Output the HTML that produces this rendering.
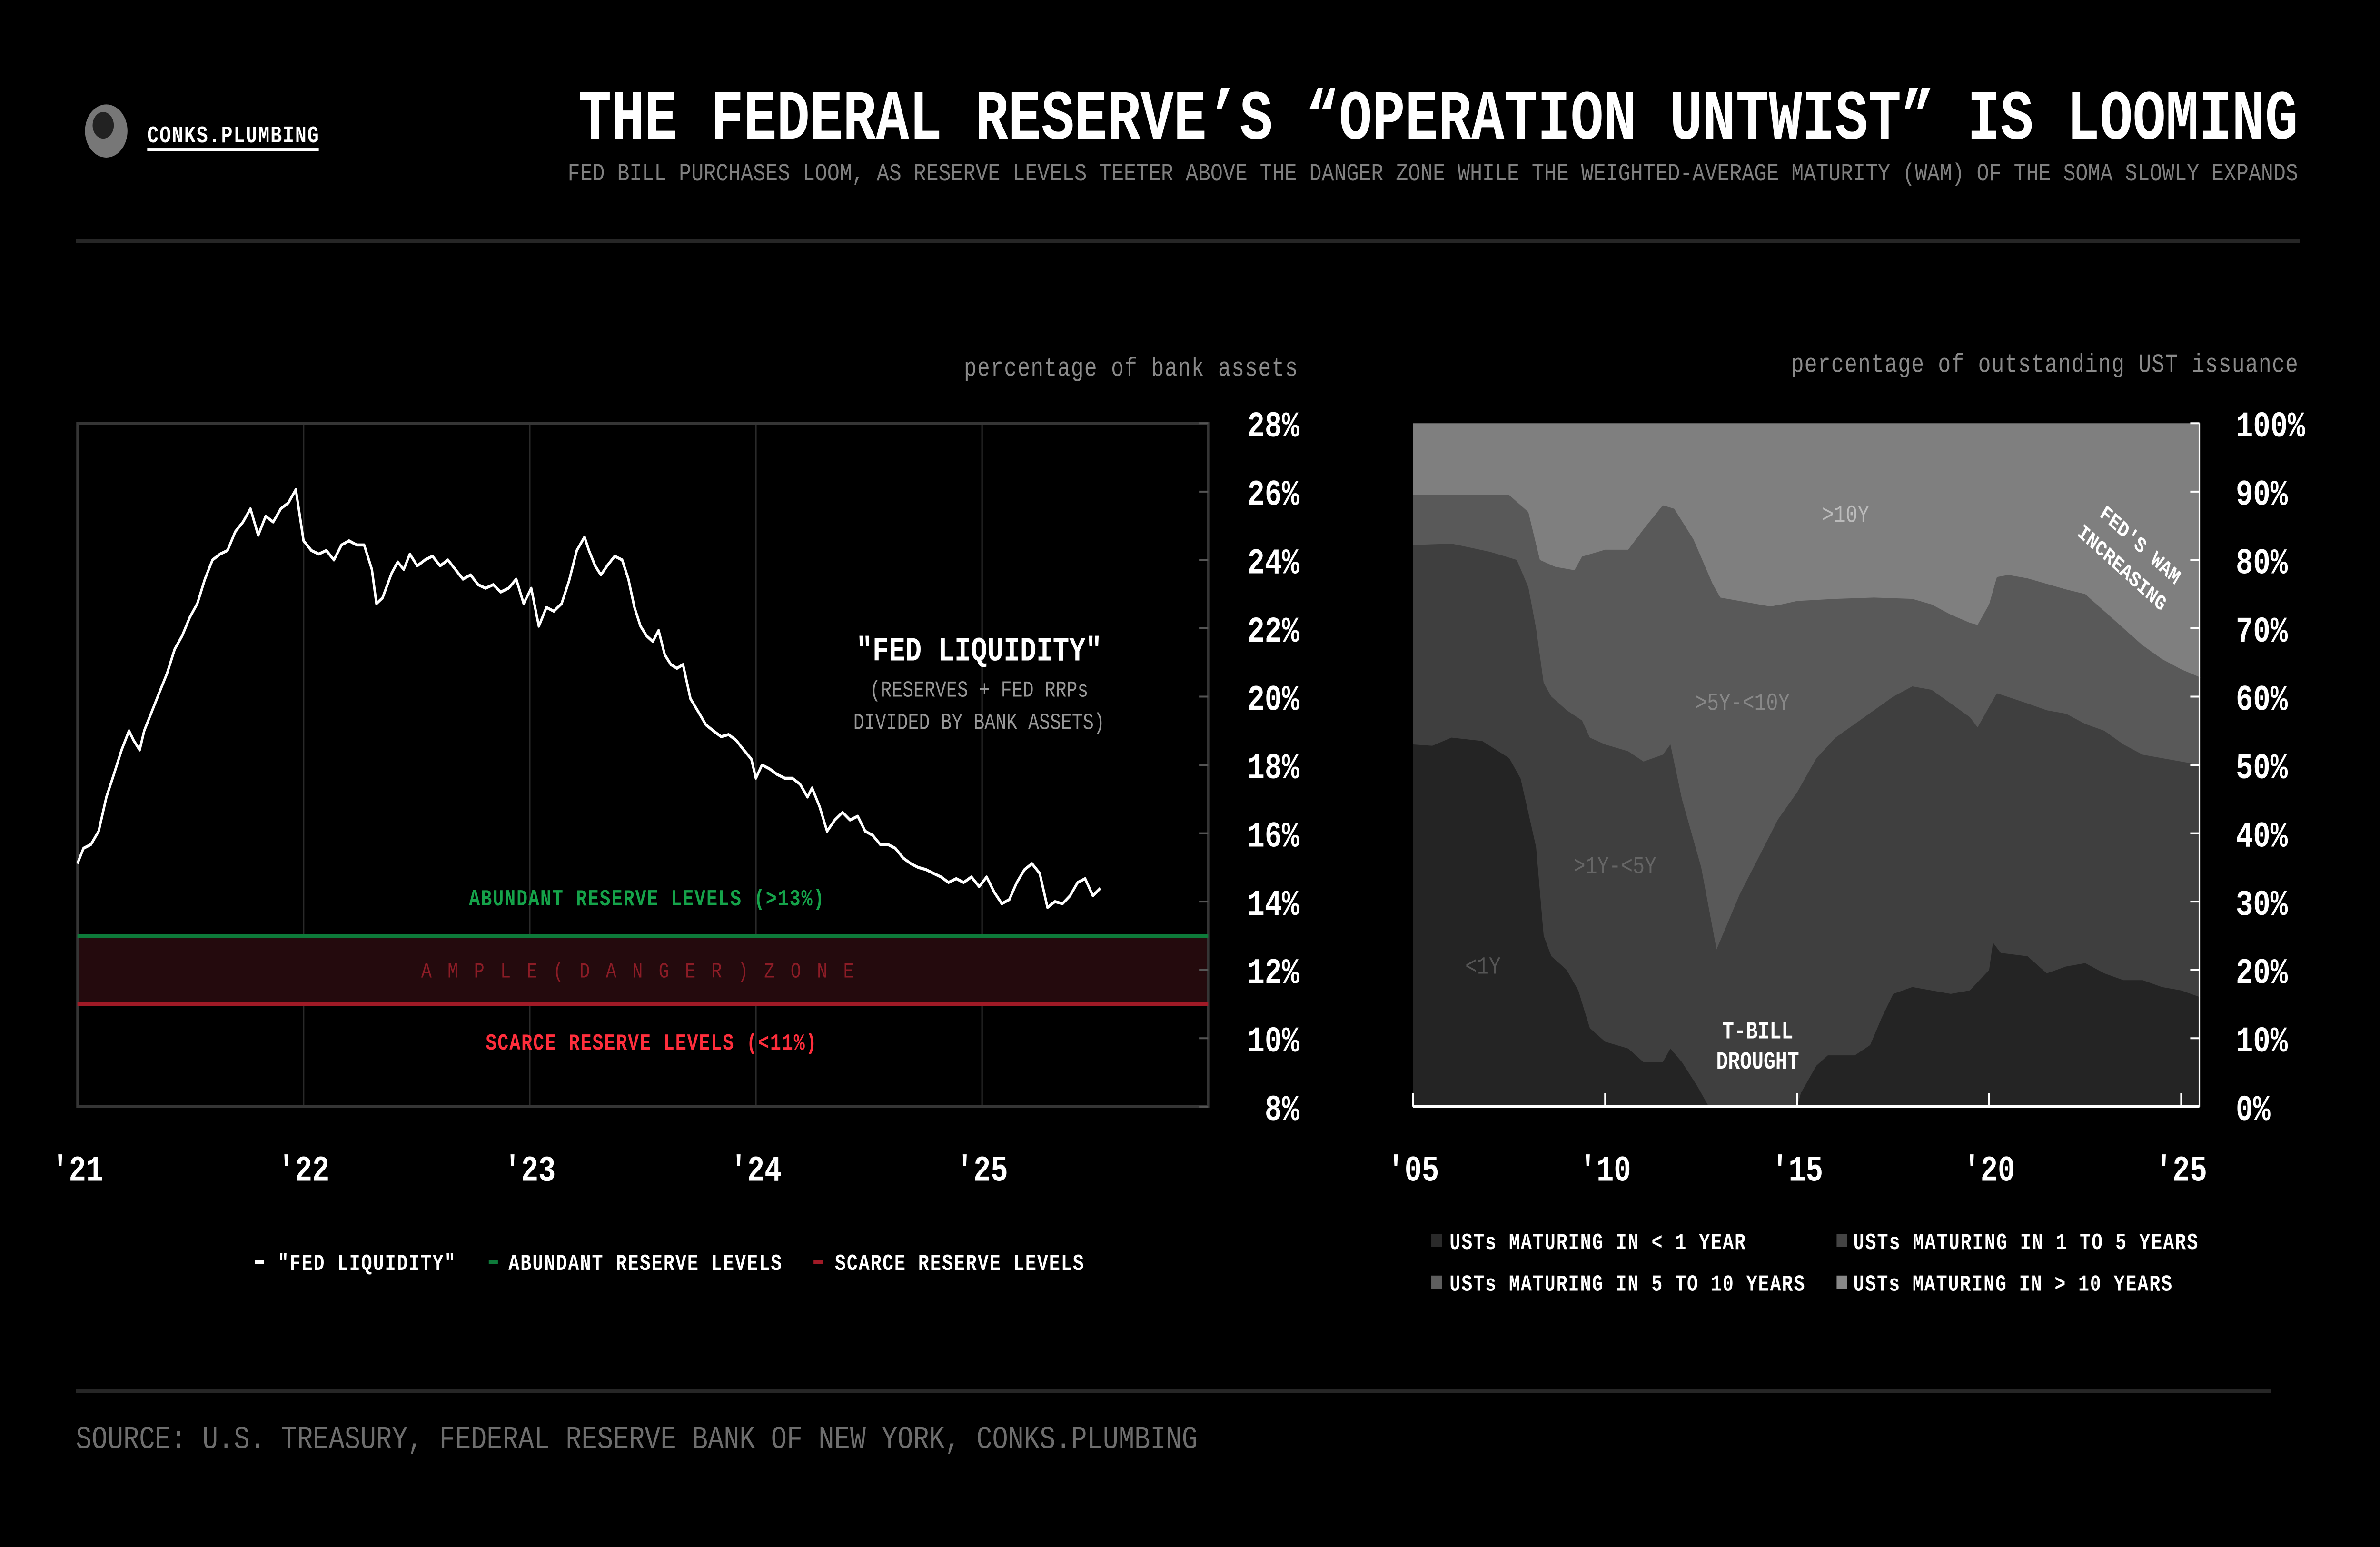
<!DOCTYPE html>
<html><head><meta charset="utf-8">
<style>
html,body{margin:0;padding:0;background:#000;overflow:hidden;width:100vw;height:100vh}
svg{display:block;width:100vw;height:100vh}
text{font-family:"Liberation Mono",monospace}
</style></head>
<body>
<svg id="svg" viewBox="0 0 1568 815" preserveAspectRatio="none" xmlns="http://www.w3.org/2000/svg">
<rect width="1568" height="815" fill="#000"/>
<g>
<circle cx="70" cy="69" r="14" fill="#777"/>
<circle cx="68" cy="66" r="7" fill="#222"/>
<text x="97" y="75" font-size="12.5" font-weight="bold" fill="#fff" textLength="113">CONKS.PLUMBING</text>
<rect x="97" y="78" width="113" height="1.5" fill="#fff"/>
</g>
<text x="1514" y="73" text-anchor="end" font-size="37" font-weight="bold" fill="#fff" textLength="1133" lengthAdjust="spacingAndGlyphs">THE FEDERAL RESERVE’S “OPERATION UNTWIST” IS LOOMING</text>
<text x="1514" y="95" text-anchor="end" font-size="13" fill="#808080" textLength="1140" lengthAdjust="spacingAndGlyphs">FED BILL PURCHASES LOOM, AS RESERVE LEVELS TEETER ABOVE THE DANGER ZONE WHILE THE WEIGHTED-AVERAGE MATURITY (WAM) OF THE SOMA SLOWLY EXPANDS</text>
<rect x="50" y="126" width="1465" height="2" fill="#262626"/>

<text x="855" y="198" text-anchor="end" font-size="14" fill="#8a8a8a" textLength="220">percentage of bank assets</text>
<text x="1514" y="196" text-anchor="end" font-size="14" fill="#8a8a8a" textLength="334">percentage of outstanding UST issuance</text>

<g id="left"></g>
<g id="right"></g>

<g>
<rect x="168" y="664" width="6" height="2" fill="#fff"/>
<text x="183" y="669" font-size="12" font-weight="bold" fill="#fff" textLength="117">"FED LIQUIDITY"</text>
<rect x="322" y="664" width="6" height="2" fill="#0e7a3a"/>
<text x="335" y="669" font-size="12" font-weight="bold" fill="#fff" textLength="180">ABUNDANT RESERVE LEVELS</text>
<rect x="536" y="664" width="6" height="2" fill="#a01a26"/>
<text x="550" y="669" font-size="12" font-weight="bold" fill="#fff" textLength="164">SCARCE RESERVE LEVELS</text>
</g>
<g>
<rect x="943" y="650" width="7" height="7" fill="#2a2a2a"/>
<text x="955" y="658" font-size="12" font-weight="bold" fill="#fff" textLength="195">USTs MATURING IN &lt; 1 YEAR</text>
<rect x="1210" y="650" width="7" height="7" fill="#444"/>
<text x="1221" y="658" font-size="12" font-weight="bold" fill="#fff" textLength="227">USTs MATURING IN 1 TO 5 YEARS</text>
<rect x="943" y="672" width="7" height="7" fill="#5e5e5e"/>
<text x="955" y="680" font-size="12" font-weight="bold" fill="#fff" textLength="234">USTs MATURING IN 5 TO 10 YEARS</text>
<rect x="1210" y="672" width="7" height="7" fill="#888"/>
<text x="1221" y="680" font-size="12" font-weight="bold" fill="#fff" textLength="210">USTs MATURING IN &gt; 10 YEARS</text>
</g>
<rect x="50" y="732" width="1446" height="2" fill="#262626"/>
<text x="50" y="763" font-size="17" fill="#6e6e6e" textLength="739" lengthAdjust="spacingAndGlyphs">SOURCE: U.S. TREASURY, FEDERAL RESERVE BANK OF NEW YORK, CONKS.PLUMBING</text>
</svg>
<script>
// ---------- LEFT CHART DATA ----------
const liqYearOffsets = [0,.027,.06,.094,.128,.161,.195,.228,.248,.275,.295,.329,.362,.396,.43,.463,.497,.53,.564,.597,.631,.664,.698,.732,.765,.799,.832,.866,.899,.933,.966,1.0,1.034,1.067,1.101,1.134,1.168,1.201,1.235,1.268,1.302,1.322,1.349,1.389,1.416,1.443,1.47,1.503,1.537,1.57,1.604,1.638,1.671,1.705,1.738,1.772,1.805,1.839,1.872,1.906,1.94,1.973,2.007,2.04,2.074,2.107,2.141,2.174,2.208,2.242,2.262,2.289,2.315,2.342,2.376,2.409,2.436,2.463,2.49,2.517,2.544,2.57,2.597,2.624,2.651,2.678,2.711,2.745,2.779,2.812,2.846,2.879,2.913,2.946,2.98,3.0,3.027,3.06,3.094,3.128,3.161,3.195,3.228,3.248,3.282,3.315,3.349,3.383,3.416,3.45,3.483,3.517,3.55,3.584,3.617,3.651,3.685,3.718,3.752,3.785,3.819,3.852,3.886,3.919,3.953,3.987,4.02,4.054,4.087,4.121,4.154,4.188,4.221,4.255,4.289,4.322,4.356,4.389,4.423,4.456,4.49,4.523];
const liqValues = [15.11,15.56,15.67,16.06,17.06,17.72,18.44,19.0,18.72,18.44,19.0,19.56,20.11,20.67,21.39,21.78,22.33,22.72,23.44,24.0,24.17,24.28,24.83,25.11,25.5,24.72,25.28,25.11,25.5,25.67,26.06,24.56,24.28,24.17,24.28,24.0,24.44,24.56,24.44,24.44,23.72,22.72,22.89,23.61,23.94,23.72,24.17,23.83,24.0,24.11,23.83,24.0,23.72,23.44,23.56,23.28,23.17,23.28,23.06,23.17,23.44,22.72,23.17,22.06,22.61,22.5,22.72,23.39,24.28,24.67,24.28,23.83,23.56,23.83,24.11,24.0,23.44,22.61,22.06,21.78,21.61,21.94,21.22,20.94,20.83,20.94,19.94,19.56,19.17,19.0,18.83,18.89,18.72,18.44,18.17,17.61,18.0,17.89,17.72,17.61,17.61,17.44,17.06,17.33,16.78,16.06,16.39,16.61,16.39,16.5,16.06,15.94,15.67,15.67,15.56,15.28,15.11,15.0,14.94,14.83,14.72,14.56,14.67,14.56,14.72,14.44,14.72,14.28,13.94,14.06,14.56,14.94,15.11,14.83,13.83,14.0,13.94,14.17,14.56,14.67,14.17,14.39];
const leftYTicks = [8,10,12,14,16,18,20,22,24,26,28];
const leftXTicks = [2021,2022,2023,2024,2025];
const leftXLabels = ["'21","'22","'23","'24","'25"];
const abundantLevel = 13;
const scarceLevel = 11;

// ---------- RIGHT CHART DATA ----------
const under1Years = [2005,2005.5,2006,2006.8,2007.5,2007.8,2008,2008.2,2008.4,2008.6,2009,2009.3,2009.6,2010,2010.6,2011,2011.5,2011.7,2012,2012.4,2012.7,2015,2015.1,2015.5,2015.8,2016,2016.5,2016.9,2017.2,2017.5,2018,2018.5,2019,2019.5,2020,2020.1,2020.3,2021,2021.5,2022,2022.5,2023,2023.5,2024,2024.5,2025,2025.5];
const under1Share = [53,52.8,54,53.5,51,48,43,38,25,22,20,17,11.5,9.5,8.5,6.5,6.5,8.5,6.5,3,0,0,2,6,7.5,7.5,7.5,9,13,16.5,17.5,17,16.5,17,20,24,22.5,22,19.5,20.5,21,19.5,18.5,18.5,17.5,17,16];
const under5Years = [2005,2006,2007,2007.7,2008,2008.2,2008.4,2008.6,2009,2009.4,2009.6,2010,2010.6,2011,2011.5,2011.7,2012,2012.5,2012.9,2013.2,2013.5,2014,2014.5,2015,2015.5,2016,2016.5,2017,2017.5,2018,2018.5,2019,2019.5,2019.7,2020,2020.2,2021,2021.5,2022,2022.5,2023,2023.5,2024,2025,2025.5];
const under5CumShare = [82.2,82.4,81.2,80,76,70,62,60,58,56.5,54,53,52,50.5,51.5,53,45,35,23,27,31,36.5,42,46,51,54,56,58,60,61.5,61,59,57,55.5,58.5,60.5,59,58,57.5,56,55,53,51.5,50.5,50];
const under10Years = [2005,2007.5,2008,2008.3,2008.7,2009.2,2009.4,2010,2010.6,2011,2011.5,2011.8,2012.3,2012.8,2013,2013.5,2014,2014.3,2014.6,2015,2016,2017,2018,2018.5,2019,2019.5,2019.7,2020,2020.2,2020.5,2021,2022,2022.5,2023,2023.5,2024,2024.5,2025,2025.5];
const under10CumShare = [89.5,89.5,87,80,79,78.5,80.5,81.5,81.5,84.5,88,87.5,83,76.5,74.5,74,73.5,73.2,73.5,74,74.3,74.5,74.3,73.5,72,70.8,70.5,73.5,77.5,77.8,77.3,75.7,75,72.5,70,67.5,65.5,64,62.8];
const rightYTicks = [0,10,20,30,40,50,60,70,80,90,100];
const rightXTicks = [2005,2010,2015,2020,2025];
const rightXLabels = ["'05","'10","'15","'20","'25"];

const NS = "http://www.w3.org/2000/svg";
function mk(tag, attrs, parent, txt){const e=document.createElementNS(NS,tag);for(const k in attrs)e.setAttribute(k,attrs[k]);if(txt!==undefined)e.textContent=txt;parent.appendChild(e);return e;}

// ---- left ----
const L = {x0:51,x1:796,y0:223,y1:583};
const lx = t => L.x0 + (t-2021)*149;
const ly = v => L.y1 - (v-8)/20*(L.y1-L.y0);
const left = document.getElementById('left');
leftXTicks.forEach((t,i)=>{
  if(i>0){const g=mk('line',{x1:lx(t),x2:lx(t),y1:L.y0,y2:L.y1,stroke:'#2a2a2a','stroke-width':1},left);
  
  }
  const tx=mk('text',{x:lx(t),y:622,'text-anchor':'middle','font-size':19,'font-weight':'bold',fill:'#fff'},left,leftXLabels[i]);
  
  
});
const band=mk('rect',{x:L.x0,y:ly(abundantLevel),width:L.x1-L.x0,height:ly(scarceLevel)-ly(abundantLevel),fill:'#240a0d'},left);


const frame=mk('rect',{x:L.x0,y:L.y0,width:L.x1-L.x0,height:L.y1-L.y0,fill:'none',stroke:'#353535','stroke-width':1.5},left);


const gl=mk('line',{x1:L.x0,x2:L.x1,y1:ly(abundantLevel),y2:ly(abundantLevel),stroke:'#0e7a3a','stroke-width':2},left);


const rl=mk('line',{x1:L.x0,x2:L.x1,y1:ly(scarceLevel),y2:ly(scarceLevel),stroke:'#a01a26','stroke-width':2},left);


leftYTicks.forEach(v=>{
  const tk=mk('line',{x1:L.x1-6,x2:L.x1,y1:ly(v),y2:ly(v),stroke:'#555','stroke-width':1},left);
  
  
  const tl=mk('text',{x:856,y:ly(v)+7,'text-anchor':'end','font-size':19,'font-weight':'bold',fill:'#fff'},left,v+'%');
  
  
});
const pts=liqYearOffsets.map((o,i)=>lx(2021+o).toFixed(1)+','+ly(liqValues[i]).toFixed(1)).join(' ');
const ln=mk('polyline',{points:pts,fill:'none',stroke:'#fff','stroke-width':1.6,'stroke-linejoin':'round'},left);


[['"FED LIQUIDITY"',645,348,18,'bold','#fff','fed-liquidity-annotation',0],
 ['(RESERVES + FED RRPs',645,367,12,'normal','#999','annotation-note-1',0],
 ['DIVIDED BY BANK ASSETS)',645,384,12,'normal','#999','annotation-note-2',0],
 ['ABUNDANT RESERVE LEVELS (>13%)',426,477,12,'bold','#15a34a','abundant-label',234],
 ['A M P L E   ( D A N G E R )   Z O N E',420,515,11.5,'normal','#8c1c26','danger-zone-label',285],
 ['SCARCE RESERVE LEVELS (<11%)',429,553,12,'bold','#ff2e3c','scarce-label',218]].forEach(a=>{
  const at={x:a[1],y:a[2],'text-anchor':'middle','font-size':a[3],'font-weight':a[4],fill:a[5]};
  if(a[7])at.textLength=a[7];
  const t=mk('text',at,left,a[0]);
  
  
});

// ---- right ----
const R = {x0:931,x1:1449,y0:223,y1:583};
const rx = t => R.x0 + (t-2005)*25.3;
const ry = v => R.y1 - v/100*(R.y1-R.y0);
const right = document.getElementById('right');
function area(years, vals, color, name){
  let d='M'+rx(years[0]).toFixed(1)+','+R.y1;
  years.forEach((t,i)=>{d+=' L'+rx(t).toFixed(1)+','+ry(vals[i]).toFixed(1);});
  d+=' L'+R.x1+','+ry(vals[vals.length-1]).toFixed(1)+' L'+R.x1+','+R.y1+' Z';
  const p=mk('path',{d:d,fill:color},right);
  
  
}
const bg=mk('rect',{x:R.x0,y:R.y0,width:R.x1-R.x0,height:R.y1-R.y0,fill:'#7f7f7f'},right);


area(under10Years,under10CumShare,'#595959','area-5-10y');
area(under5Years,under5CumShare,'#3f3f3f','area-1-5y');
area(under1Years,under1Share,'#242424','area-under-1y');
const ax=mk('line',{x1:R.x0,x2:R.x1,y1:R.y1,y2:R.y1,stroke:'#fff','stroke-width':1.5},right);


rightXTicks.forEach((t,i)=>{
  const tk=mk('line',{x1:rx(t),x2:rx(t),y1:R.y1-7,y2:R.y1,stroke:'#fff','stroke-width':1.2},right);
  
  
  const tl=mk('text',{x:rx(t),y:622,'text-anchor':'middle','font-size':19,'font-weight':'bold',fill:'#fff'},right,rightXLabels[i]);
  
  
});
rightYTicks.forEach(v=>{
  const tk=mk('line',{x1:R.x1-6,x2:R.x1,y1:ry(v),y2:ry(v),stroke:'#fff','stroke-width':1},right);
  
  
  const tl=mk('text',{x:1473,y:ry(v)+7,'font-size':19,'font-weight':'bold',fill:'#fff'},right,v+'%');
  
  
});
const ry1=mk('line',{x1:R.x1,x2:R.x1,y1:R.y0,y2:R.y1,stroke:'#fff','stroke-width':1},right);


[['>10Y',1216,275,'#bbb','normal','label-over-10y'],
 ['>5Y-<10Y',1148,374,'#888','normal','label-5-10y'],
 ['>1Y-<5Y',1064,460,'#666','normal','label-1-5y'],
 ['<1Y',977,513,'#555','normal','label-under-1y'],
 ['T-BILL',1158,547,'#fff','bold','tbill-drought-line1'],
 ['DROUGHT',1158,563,'#fff','bold','tbill-drought-line2']].forEach(a=>{
  const t=mk('text',{x:a[1],y:a[2],'text-anchor':'middle','font-size':13,'font-weight':a[4],fill:a[3]},right,a[0]);
  
  
});
const w1=mk('text',{x:1408,y:290,'text-anchor':'middle','font-size':11.5,'font-weight':'bold',fill:'#fff',transform:'rotate(36 1408 290)'},right,"FED'S WAM");


const w2=mk('text',{x:1396,y:302,'text-anchor':'middle','font-size':11.5,'font-weight':'bold',fill:'#fff',transform:'rotate(36 1396 302)'},right,"INCREASING");


</script>
</body></html>
